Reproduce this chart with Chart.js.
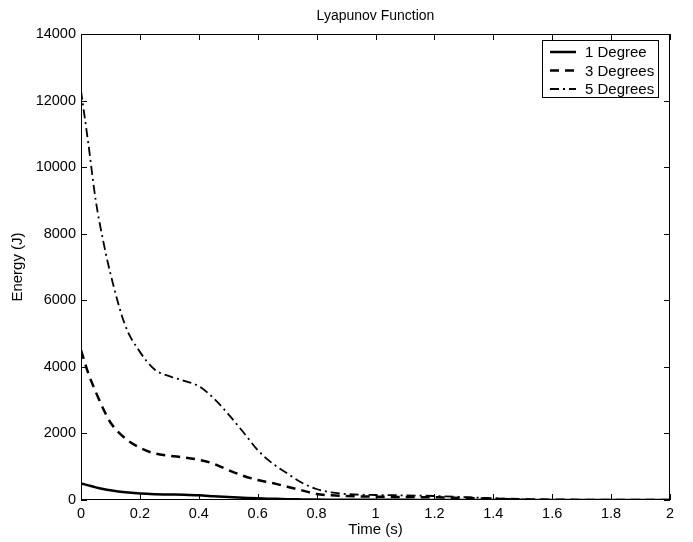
<!DOCTYPE html>
<html>
<head>
<meta charset="utf-8">
<script src="https://cdn.jsdelivr.net/npm/chart.js@4"></script>
<style>
  body { margin: 0; background: #fff; }
  #wrap { width: 693px; height: 542px; }
</style>
</head>
<body>
<div id="wrap"><canvas id="grafico"></canvas></div>
<script>
// time samples (s), shared by the three curves
const tempo = [0, 0.025, 0.05, 0.075, 0.1, 0.15, 0.2, 0.25, 0.3, 0.35, 0.4, 0.45, 0.5, 0.55, 0.6,
  0.65, 0.7, 0.75, 0.8, 0.85, 0.9, 1.0, 1.1, 1.2, 1.3, 1.4, 1.5, 1.6, 1.8, 2.0];

const grau1 = [500, 440, 380, 330, 290, 230, 195, 175, 165, 155, 140, 115, 90, 70, 50,
  37, 25, 18, 12, 9, 7, 5, 4, 3, 2, 1, 0, 0, 0, 0];
const grau3 = [4500, 3800, 3250, 2750, 2330, 1850, 1570, 1400, 1330, 1280, 1210, 1090, 900, 730, 600,
  510, 400, 290, 180, 140, 120, 100, 90, 80, 60, 40, 20, 10, 0, 0];
const grau5 = [12300, 10700, 9000, 7800, 6800, 5250, 4450, 3920, 3720, 3580, 3420, 3060, 2580, 2050, 1500,
  1100, 800, 520, 330, 230, 180, 150, 140, 120, 90, 50, 20, 5, 0, 0];

const rotulos = ['1 Degree', '3 Degrees', '5 Degrees'];
const titulo = 'Lyapunov Function';

const pontos = arr => tempo.map((t, i) => ({ x: t, y: arr[i] }));
const FONTE = '"Liberation Sans", Arial, Helvetica, sans-serif';

// moldura, ticks para dentro, titulo e legenda
const molduraPlugin = {
  id: 'moldura',
  afterDraw(chart) {
    const { ctx, chartArea: { left, right, top, bottom }, scales: { x, y } } = chart;
    ctx.save();
    ctx.strokeStyle = '#000';
    ctx.lineWidth = 1;
    ctx.strokeRect(left + 0.5, top + 0.5, right - left - 1, bottom - top - 1);
    ctx.beginPath();
    x.ticks.forEach(t => {
      const px = Math.round(x.getPixelForValue(t.value)) + 0.5;
      ctx.moveTo(px, bottom); ctx.lineTo(px, bottom - 6);
      ctx.moveTo(px, top); ctx.lineTo(px, top + 6);
    });
    y.ticks.forEach(t => {
      const py = Math.round(y.getPixelForValue(t.value)) + 0.5;
      ctx.moveTo(left, py); ctx.lineTo(left + 6, py);
      ctx.moveTo(right, py); ctx.lineTo(right - 6, py);
    });
    ctx.stroke();

    // titulo
    ctx.fillStyle = '#000';
    ctx.font = '14px ' + FONTE;
    ctx.textAlign = 'center';
    ctx.textBaseline = 'middle';
    ctx.fillText(titulo, (left + right) / 2, top - 18);

    // legenda
    const bw = 116, bh = 57;
    const bx = right - 12 - bw, by = top + 6;
    ctx.fillStyle = '#fff';
    ctx.fillRect(bx, by, bw, bh);
    ctx.strokeRect(bx + 0.5, by + 0.5, bw, bh);
    ctx.font = '15px ' + FONTE;
    ctx.textAlign = 'left';
    chart.data.datasets.forEach((ds, i) => {
      const ly = by + 12 + i * 18.5;
      ctx.beginPath();
      ctx.setLineDash(ds.borderDash || []);
      ctx.lineWidth = ds.borderWidth;
      ctx.moveTo(bx + 8, ly);
      ctx.lineTo(bx + 34, ly);
      ctx.stroke();
      ctx.setLineDash([]);
      ctx.fillStyle = '#000';
      ctx.fillText(ds.label, bx + 43, ly + 1);
    });
    ctx.restore();
  }
};

new Chart(document.getElementById('grafico'), {
  type: 'line',
  data: {
    datasets: [
      { label: rotulos[0], data: pontos(grau1), borderColor: '#000', borderWidth: 2.5 },
      { label: rotulos[1], data: pontos(grau3), borderColor: '#000', borderWidth: 2.5, borderDash: [9, 6] },
      { label: rotulos[2], data: pontos(grau5), borderColor: '#000', borderWidth: 1.8, borderDash: [9, 4, 2, 4] }
    ]
  },
  options: {
    responsive: true,
    maintainAspectRatio: false,
    animation: false,
    elements: { point: { radius: 0 }, line: { cubicInterpolationMode: 'monotone' } },
    layout: { padding: { top: 34, right: 23, bottom: 0, left: 0 } },
    plugins: { legend: { display: false }, title: { display: false }, tooltip: { enabled: false } },
    scales: {
      x: {
        type: 'linear', min: 0, max: 2,
        grid: { display: false, drawTicks: false },
        border: { display: false },
        ticks: {
          stepSize: 0.2, padding: 5, color: '#000', maxRotation: 0,
          font: { family: FONTE, size: 14.5 },
          callback: v => String(Number(v.toFixed(1)))
        },
        title: { display: true, text: 'Time (s)', color: '#000', font: { family: FONTE, size: 15 }, padding: { top: 0, bottom: 3 } },
        afterFit: s => { s.height = 42; }
      },
      y: {
        min: 0, max: 14000,
        grid: { display: false, drawTicks: false },
        border: { display: false },
        ticks: {
          stepSize: 2000, padding: 5, color: '#000',
          font: { family: FONTE, size: 14.5 },
          callback: v => String(v)
        },
        title: { display: true, text: 'Energy (J)', color: '#000', font: { family: FONTE, size: 15 }, padding: { top: 9, bottom: 0 } },
        afterFit: s => { s.width = 81; }
      }
    }
  },
  plugins: [molduraPlugin]
});
</script>
</body>
</html>
